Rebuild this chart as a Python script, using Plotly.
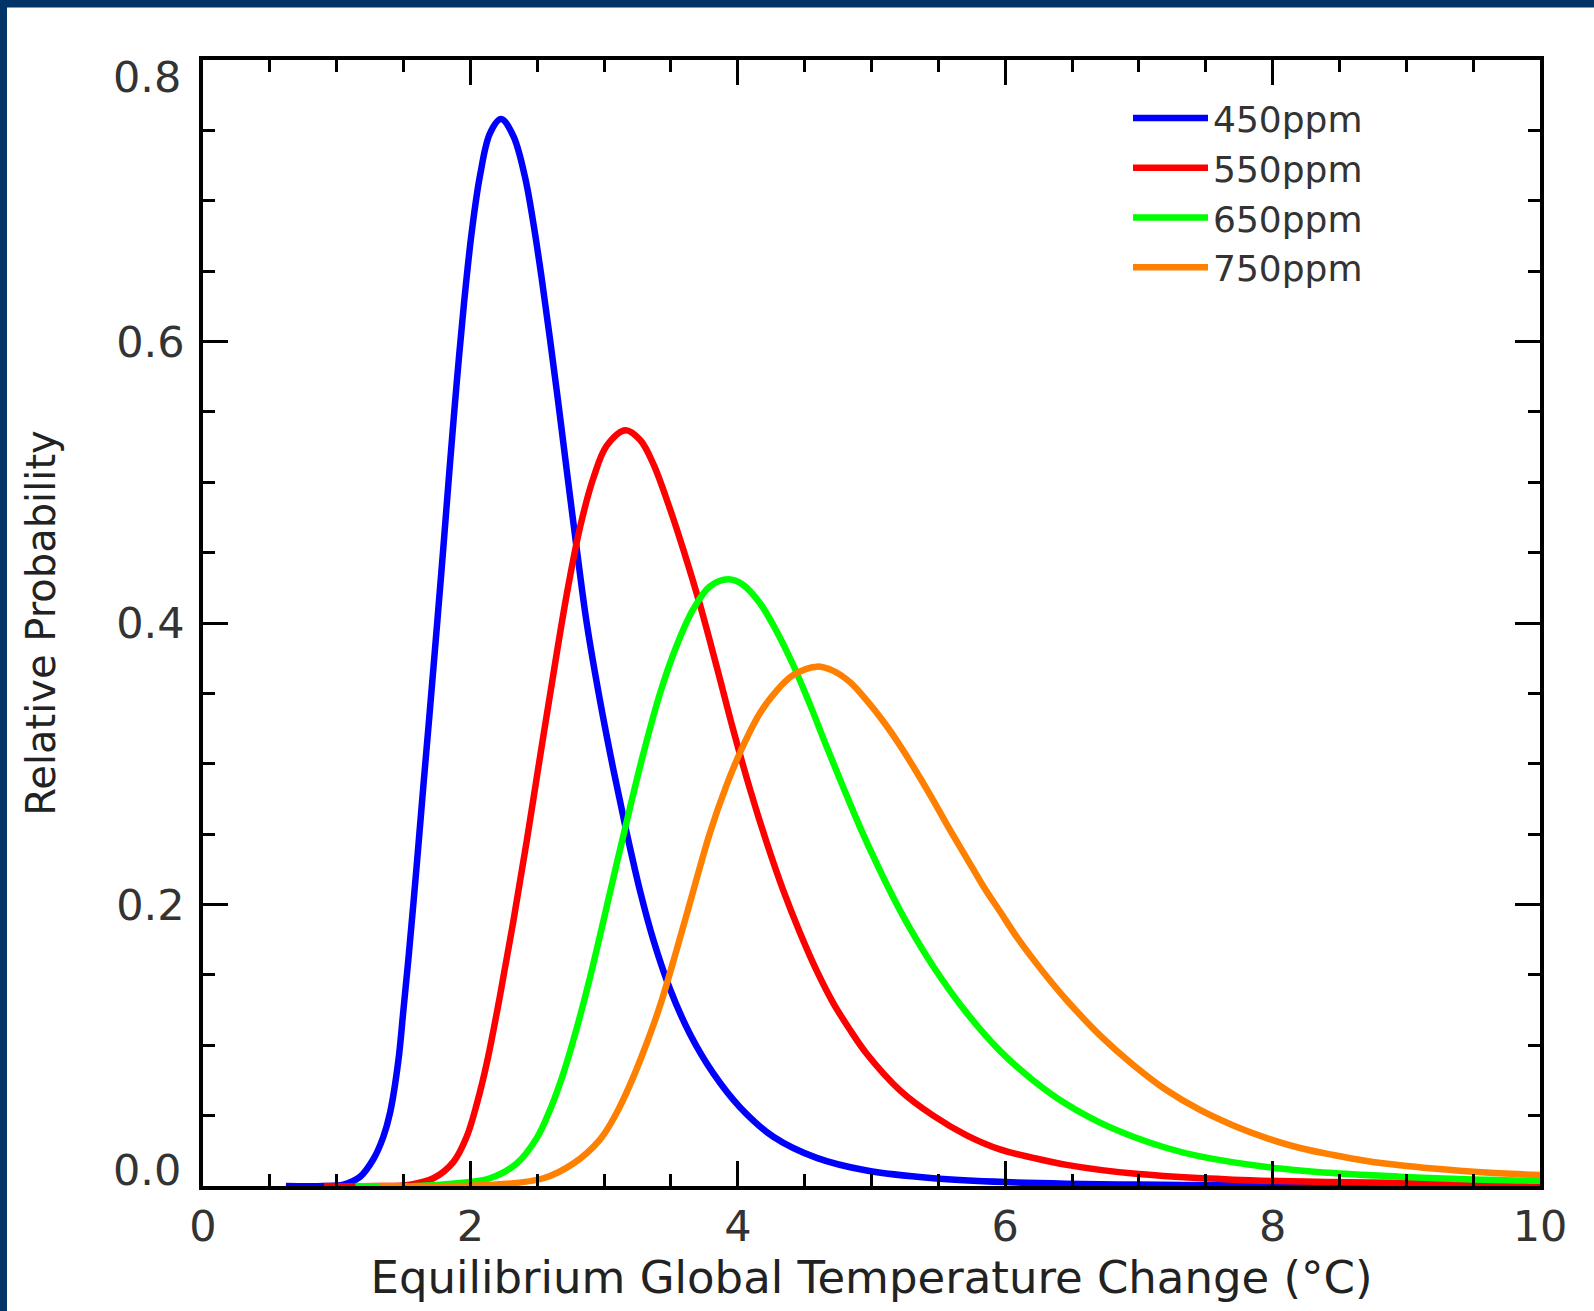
import plotly.graph_objects as go

# ---- data ----
series_names = ["450ppm", "550ppm", "650ppm", "750ppm"]
series_colors = ["#0000FF", "#FF0000", "#00FF00", "#FF8000"]

x_450 = [0.62, 0.9, 1.05, 1.174, 1.274, 1.349, 1.399, 1.461, 1.498, 1.536, 1.573, 1.611,
         1.648, 1.686, 1.718, 1.748, 1.798, 1.847, 1.897, 1.952, 2.009, 2.072, 2.147,
         2.229, 2.321, 2.408, 2.471, 2.533, 2.595, 2.658, 2.720, 2.795, 2.87, 2.969,
         3.069, 3.169, 3.268, 3.368, 3.493, 3.642, 3.817, 4.016, 4.266, 4.59, 4.964,
         5.462, 6.0, 7.0, 8.0, 10.0]
y_450 = [0.0, 0.0, 0.001, 0.0065, 0.019, 0.035, 0.052, 0.089, 0.124, 0.161, 0.200, 0.242,
         0.284, 0.326, 0.362, 0.396, 0.454, 0.513, 0.570, 0.627, 0.677, 0.718, 0.748,
         0.758, 0.746, 0.717, 0.684, 0.645, 0.602, 0.556, 0.509, 0.453, 0.400, 0.345,
         0.296, 0.251, 0.210, 0.175, 0.140, 0.108, 0.080, 0.056, 0.035, 0.020, 0.011,
         0.0055, 0.0028, 0.001, 0.0005, 0.0001]

x_550 = [0.905, 1.3, 1.55, 1.723, 1.872, 1.972, 2.047, 2.122, 2.221, 2.321, 2.421, 2.521,
         2.621, 2.72, 2.82, 2.92, 3.02, 3.16, 3.27, 3.368, 3.493, 3.593, 3.717, 3.842,
         3.966, 4.091, 4.216, 4.34, 4.465, 4.59, 4.714, 4.839, 4.964, 5.213, 5.462,
         5.712, 5.961, 6.21, 6.46, 6.958, 7.706, 8.454, 9.2, 10.0]
y_550 = [0.0, 0.0, 0.001, 0.0055, 0.017, 0.035, 0.058, 0.087, 0.135, 0.188, 0.245, 0.305,
         0.364, 0.420, 0.468, 0.503, 0.526, 0.537, 0.530, 0.513, 0.481, 0.452, 0.413, 0.369,
         0.324, 0.282, 0.244, 0.210, 0.180, 0.153, 0.130, 0.111, 0.094, 0.068, 0.050,
         0.036, 0.026, 0.020, 0.015, 0.0088, 0.0045, 0.0028, 0.002, 0.0015]

x_650 = [1.14, 1.6, 1.9, 2.147, 2.346, 2.496, 2.595, 2.695, 2.795, 2.894, 2.994, 3.094,
         3.194, 3.293, 3.418, 3.543, 3.668, 3.792, 3.93, 4.041, 4.166, 4.291, 4.415,
         4.54, 4.665, 4.79, 4.914, 5.039, 5.163, 5.288, 5.462, 5.712, 5.961, 6.21,
         6.46, 6.709, 6.958, 7.208, 7.457, 7.956, 8.454, 8.953, 9.452, 10.0]
y_650 = [0.0, 0.0, 0.002, 0.0055, 0.016, 0.034, 0.054, 0.080, 0.112, 0.148, 0.188, 0.229,
         0.269, 0.307, 0.350, 0.384, 0.410, 0.426, 0.431, 0.427, 0.414, 0.394, 0.370,
         0.342, 0.312, 0.283, 0.255, 0.229, 0.205, 0.183, 0.156, 0.123, 0.096, 0.075,
         0.058, 0.045, 0.035, 0.027, 0.021, 0.0135, 0.0092, 0.0066, 0.0048, 0.0037]

x_750 = [1.32, 1.9, 2.2, 2.546, 2.77, 2.969, 3.094, 3.194, 3.293, 3.418, 3.543, 3.668,
         3.792, 3.917, 4.041, 4.166, 4.291, 4.415, 4.59, 4.714, 4.839, 4.964, 5.089,
         5.213, 5.338, 5.462, 5.587, 5.712, 5.836, 5.961, 6.086, 6.21, 6.335, 6.46,
         6.709, 6.958, 7.208, 7.457, 7.706, 7.956, 8.205, 8.454, 8.704, 8.953, 9.202,
         9.452, 9.701, 10.0]
y_750 = [0.0, 0.0, 0.001, 0.0055, 0.016, 0.033, 0.052, 0.072, 0.095, 0.128, 0.168, 0.210,
         0.251, 0.285, 0.313, 0.336, 0.352, 0.363, 0.369, 0.366, 0.358, 0.345, 0.330,
         0.313, 0.294, 0.274, 0.253, 0.233, 0.213, 0.195, 0.177, 0.161, 0.146, 0.132,
         0.107, 0.086, 0.068, 0.054, 0.043, 0.034, 0.027, 0.022, 0.0178, 0.0148, 0.0124,
         0.0104, 0.009, 0.0078]

x_tick_vals = [0, 2, 4, 6, 8, 10]
y_tick_vals = [0.0, 0.2, 0.4, 0.6, 0.8]
y_tick_text = ["0.0", "0.2", "0.4", "0.6", "0.8"]
x_title = "Equilibrium Global Temperature Change (°C)"
y_title = "Relative Probability"

xs = [x_450, x_550, x_650, x_750]
ys = [y_450, y_550, y_650, y_750]

FONT = "DejaVu Sans"
TICK_SIZE = 43
W, H = 1594, 1311
ML, MR, MT, MB = 203, 54, 60, 125
PW = W - ML - MR
PH = H - MT - MB

fig = go.Figure()
for name, color, x, y in zip(series_names, series_colors, xs, ys):
    fig.add_trace(go.Scatter(
        x=x, y=y, mode="lines", name=name,
        line=dict(color=color, width=6.5, shape="spline", smoothing=1.0),
    ))

axis_common = dict(
    showline=True, linecolor="black", linewidth=3.5,
    mirror="ticks", ticks="inside", ticklen=25, tickwidth=3, tickcolor="black",
    showgrid=False, zeroline=False,
    tickfont=dict(family=FONT, size=TICK_SIZE, color="#333333"),
)

fig.update_xaxes(
    range=[0, 10], tickvals=x_tick_vals,
    minor=dict(dtick=0.5, ticks="inside", ticklen=12, tickwidth=3, tickcolor="black"),
    title_text=x_title, title_standoff=12,
    title_font=dict(family=FONT, size=45, color="#222222"),
    **axis_common,
)

# the end labels of the y axis sit inside the axis span in the reference,
# so they are written as annotations tied to their data values
inner_text = [t if 0 < i < len(y_tick_text) - 1 else "" for i, t in enumerate(y_tick_text)]
fig.update_yaxes(
    range=[0, 0.8], tickvals=y_tick_vals, ticktext=inner_text,
    ticklabelstandoff=6,
    minor=dict(dtick=0.05, ticks="inside", ticklen=12, tickwidth=3, tickcolor="black"),
    title_text=y_title, title_standoff=49,
    title_font=dict(family=FONT, size=40, color="#222222"),
    **axis_common,
)
for val, txt, shift in [(y_tick_vals[0], y_tick_text[0], 16), (y_tick_vals[-1], y_tick_text[-1], -17)]:
    fig.add_annotation(
        x=0, xref="paper", y=val, yref="y", text=txt, showarrow=False,
        xanchor="right", yanchor="middle", xshift=-20, yshift=shift,
        font=dict(family=FONT, size=TICK_SIZE, color="#333333"),
    )

# dark-blue frame strips along the top and left edges of the page
navy = "#003366"
fig.add_shape(type="rect", xref="paper", yref="paper", layer="above",
              x0=-(ML + 5) / PW, x1=-(ML - 7) / PW,
              y0=-(MB + 5) / PH, y1=1 + (MT + 5) / PH,
              fillcolor=navy, line_width=0)
fig.add_shape(type="rect", xref="paper", yref="paper", layer="above",
              x0=-(ML + 5) / PW, x1=1 + (MR + 5) / PW,
              y0=1 + (MT - 7.5) / PH, y1=1 + (MT + 5) / PH,
              fillcolor=navy, line_width=0)

fig.update_layout(
    width=W, height=H, autosize=False,
    margin=dict(l=ML, r=MR, t=MT, b=MB),
    paper_bgcolor="white", plot_bgcolor="white",
    showlegend=True,
    legend=dict(
        x=(1128 - ML) / PW, y=(MT + PH - 88) / PH,
        xanchor="left", yanchor="top",
        bgcolor="rgba(0,0,0,0)", borderwidth=0,
        font=dict(family=FONT, size=36, color="#333333"),
        itemwidth=75, tracegroupgap=0,
    ),
)

fig.write_html(
    "out.html",
    config={"displayModeBar": False},
    post_script="document.body.style.margin='0px';document.body.style.overflow='hidden';",
)
